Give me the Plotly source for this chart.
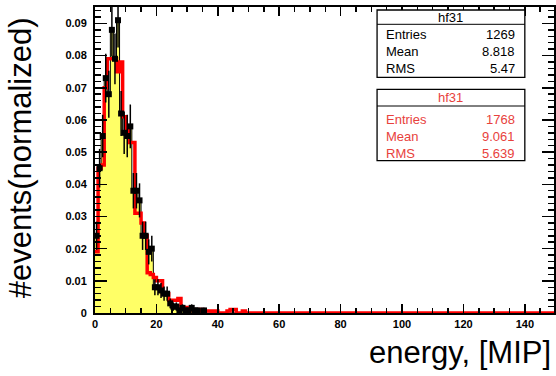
import plotly.graph_objects as go

# ---------------- data (1-unit bins starting at 0) ----------------
bin_width = 1.0
black_vals = [0.024, 0.045, 0.055, 0.073, 0.068, 0.088, 0.079, 0.091, 0.062, 0.056,
              0.055, 0.058, 0.038, 0.038, 0.035, 0.024, 0.024, 0.019, 0.020, 0.008,
              0.008, 0.007, 0.006, 0.006, 0.003, 0.002, 0.002, 0.0008, 0.0016, 0.0008,
              0.0008, 0.0016, 0.0008, 0.0008, 0.0, 0.0008]
black_errs = [0.0044, 0.0060, 0.0066, 0.0076, 0.0073, 0.0083, 0.0079, 0.0085, 0.0070, 0.0066,
              0.0066, 0.0068, 0.0055, 0.0055, 0.0053, 0.0044, 0.0044, 0.0039, 0.0040, 0.0025,
              0.0025, 0.0023, 0.0022, 0.0022, 0.0015, 0.0013, 0.0013, 0.0008, 0.0011, 0.0008,
              0.0008, 0.0011, 0.0008, 0.0008, 0.0, 0.0008]
red_vals = [0.019, 0.045, 0.046, 0.070, 0.079, 0.079, 0.079, 0.075, 0.078, 0.061,
            0.057, 0.053, 0.053, 0.031, 0.031, 0.028, 0.024, 0.0125, 0.012, 0.011,
            0.010, 0.010, 0.006, 0.006, 0.004, 0.004, 0.004, 0.0045, 0.0017, 0.0017,
            0.0011, 0.0011, 0.0006, 0.0006, 0.0011, 0.0006, 0.0006, 0.0006, 0.0, 0.0006,
            0.0, 0.0, 0.0, 0.0006, 0.0011, 0.0011, 0.0, 0.0, 0.0006, 0.0]
x_max = 150
x_ticks = [0, 20, 40, 60, 80, 100, 120, 140]

stats_black = [("Entries", "1269"), ("Mean", "8.818"), ("RMS", "5.47")]
stats_red = [("Entries", "1768"), ("Mean", "9.061"), ("RMS", "5.639")]
hist_name = "hf31"

# ---------------- step arrays ----------------
def steps(vals):
    n_bins = int(x_max / bin_width)
    v = list(vals) + [0.0] * (n_bins - len(vals))
    xs = [i * bin_width for i in range(n_bins + 1)]
    ys = v + [v[-1]]
    return xs, ys

bx, by = steps(black_vals)
rx, ry = steps(red_vals)
pts_x = [(i + 0.5) * bin_width for i, v in enumerate(black_vals) if v > 0]
pts_y = [v for v in black_vals if v > 0]
pts_e = [e for v, e in zip(black_vals, black_errs) if v > 0]

RED = "#ff0000"
TXT_RED = "#e8413c"
YELLOW = "#ffff66"

fig = go.Figure()
fig.add_trace(go.Scatter(x=bx, y=by, mode="lines", line_shape="hv",
                         line=dict(color="black", width=1), fill="tozeroy",
                         fillcolor=YELLOW, hoverinfo="skip"))
fig.add_trace(go.Scatter(x=rx, y=ry, mode="lines", line_shape="hv",
                         line=dict(color=RED, width=3.5), hoverinfo="skip"))
fig.add_trace(go.Scatter(x=pts_x, y=pts_y, mode="markers",
                         marker=dict(symbol="square", size=6, color="black"),
                         error_y=dict(type="data", array=pts_e, color="black",
                                      thickness=1.5, width=0),
                         error_x=dict(type="constant", value=bin_width / 2,
                                      color="black", thickness=1.5, width=0),
                         hoverinfo="skip"))

L, R, T, B = 95, 0, 7, 63
W, H = 556, 376
pw, ph = W - L - R, H - T - B

def px(x):
    return (x - L) / pw

def py(y):
    return (H - B - y) / ph

shapes = []
annotations = []

def stat_box(top, sep, bottom, title_y, rows_y, stats, color):
    shapes.append(dict(type="rect", xref="paper", yref="paper",
                       x0=px(378.3), x1=px(526.7), y0=py(bottom), y1=py(top),
                       line=dict(color="black", width=1.3), fillcolor="white"))
    shapes.append(dict(type="line", xref="paper", yref="paper",
                       x0=px(378.3), x1=px(526.7), y0=py(sep), y1=py(sep),
                       line=dict(color="black", width=1)))
    annotations.append(dict(xref="paper", yref="paper", x=px(452.5), y=py(title_y),
                            text=hist_name, showarrow=False, xanchor="center",
                            yanchor="middle",
                            font=dict(family="Liberation Sans", size=13, color=color)))
    for (k, v), yy in zip(stats, rows_y):
        annotations.append(dict(xref="paper", yref="paper", x=px(385), y=py(yy),
                                text=k, showarrow=False, xanchor="left", yanchor="middle",
                                font=dict(family="Liberation Sans", size=13, color=color)))
        annotations.append(dict(xref="paper", yref="paper", x=px(518.5), y=py(yy),
                                text=v, showarrow=False, xanchor="right", yanchor="middle",
                                font=dict(family="Liberation Sans", size=13, color=color)))

stat_box(10, 24.3, 77.3, 17, [34.3, 51.7, 69], stats_black, "black")
stat_box(89.3, 106, 160.7, 97.5, [119.3, 136.7, 153.3], stats_red, TXT_RED)

annotations.append(dict(xref="paper", yref="paper", x=px(20), y=py(158),
                        text="#events(normalized)", textangle=-90, showarrow=False,
                        xanchor="center", yanchor="middle",
                        font=dict(family="Liberation Sans", size=31, color="black")))
annotations.append(dict(xref="paper", yref="paper", x=px(555), y=py(352),
                        text="energy, [MIP]", showarrow=False,
                        xanchor="right", yanchor="middle",
                        font=dict(family="Liberation Sans", size=31, color="black")))

tickfont = dict(family="Liberation Sans", size=11, color="black", weight="bold")
fig.update_layout(
    width=W, height=H, margin=dict(l=L, r=R, t=T, b=B),
    paper_bgcolor="white", plot_bgcolor="white", showlegend=False,
    shapes=shapes, annotations=annotations,
    xaxis=dict(range=[0, 149.5], tickvals=x_ticks, ticks="inside", ticklen=9,
               tickwidth=1.5, tickcolor="black", showline=True, linewidth=2,
               linecolor="black", mirror="allticks", showgrid=False, zeroline=False,
               tickfont=tickfont,
               minor=dict(dtick=5, ticks="inside", ticklen=5, tickwidth=1.5,
                          tickcolor="black", showgrid=False)),
    yaxis=dict(range=[0, 0.0951], dtick=0.01, ticks="inside", ticklen=12,
               tickwidth=1.5, tickcolor="black", showline=True, linewidth=2,
               linecolor="black", mirror="allticks", showgrid=False, zeroline=False,
               tickfont=tickfont, ticklabelstandoff=4,
               minor=dict(dtick=0.002, ticks="inside", ticklen=6, tickwidth=1.5,
                          tickcolor="black", showgrid=False)),
)

fig.write_html("out.html", config={"displayModeBar": False, "staticPlot": True},
               post_script="document.body.style.margin='0px';document.body.style.overflow='hidden';")
